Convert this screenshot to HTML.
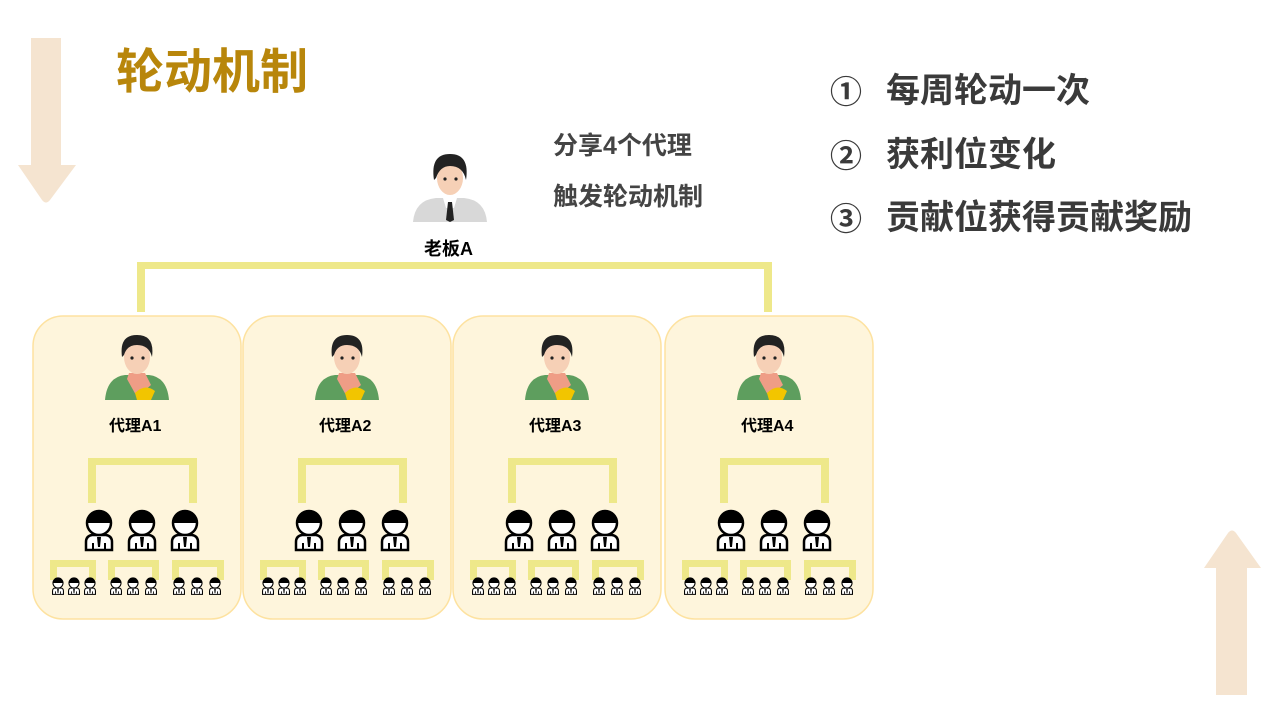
<!DOCTYPE html>
<html><head><meta charset="utf-8"><style>
body{margin:0;width:1280px;height:720px;background:#fff;overflow:hidden;position:relative;font-family:"Liberation Sans","Noto Sans CJK SC",sans-serif}
.t{position:absolute;font-weight:bold;white-space:nowrap}
.n{position:absolute;font-weight:bold;font-size:32px;color:#3a3a3a;left:830px}
</style></head><body>
<svg width="1280" height="720" style="position:absolute;left:0;top:0">
<defs>
<g id="bp">
<path d="M-13,27 L-13,19 Q-13,13 -7,12 L7,12 Q13,13 13,19 L13,27 Z" fill="#fff" stroke="#000" stroke-width="2.5"/>
<path d="M-2,14 L2,14 L1,24 L-1,24Z" fill="#000"/>
<path d="M-6,20 v6 M6,20 v6" stroke="#000" stroke-width="2"/>
<circle cx="0" cy="0" r="12" fill="#fff" stroke="#000" stroke-width="2.5"/>
<path d="M-12,0 A12,12 0 0 1 12,0 Z" fill="#000"/>
</g>
<g id="sp"><use href="#bp" transform="scale(0.42)"/></g>
<g id="av">
<path d="M-32,35 Q-30,12 -12,10 L12,10 Q30,12 32,35Z" fill="#5e9e5e"/>
<path d="M-8,8 L8,8 L14,20 L0,32 L-10,14Z" fill="#ef9d86"/>
<path d="M-2,28 Q8,18 18,26 L14,35 L0,35Z" fill="#f2c500"/>
<ellipse cx="0" cy="-8" rx="13" ry="17" fill="#f6d0b6"/>
<path d="M-15,-8 Q-18,-30 0,-30 Q18,-30 15,-8 Q12,-20 0,-20 Q-10,-20 -13,-10Z" fill="#222"/>
<circle cx="-5" cy="-7" r="1.6" fill="#222"/><circle cx="6" cy="-7" r="1.6" fill="#222"/>
</g>
<g id="panel">
<rect x="33" y="316" width="208" height="303" rx="30" fill="#fef5dc" stroke="#fde2a0" stroke-width="1.5"/>
<use href="#av" transform="translate(137,365)"/>
<path d="M88,458 H197 V503 H189 V465 H96 V503 H88Z" fill="#eee88a"/>
<path d="M50,560 H96 V580 H89 V567 H57 V580 H50Z" fill="#eee88a"/>
<path d="M108,560 H159 V580 H152 V567 H115 V580 H108Z" fill="#eee88a"/>
<path d="M172,560 H224 V580 H217 V567 H179 V580 H172Z" fill="#eee88a"/>
<use href="#bp" transform="translate(99,523)"/>
<use href="#bp" transform="translate(142,523)"/>
<use href="#bp" transform="translate(185,523)"/>
<use href="#sp" transform="translate(58,583)"/><use href="#sp" transform="translate(74,583)"/><use href="#sp" transform="translate(90,583)"/>
<use href="#sp" transform="translate(116,583)"/><use href="#sp" transform="translate(133,583)"/><use href="#sp" transform="translate(151,583)"/>
<use href="#sp" transform="translate(179,583)"/><use href="#sp" transform="translate(197,583)"/><use href="#sp" transform="translate(215,583)"/>
</g>
</defs>
<path d="M31,38 H61 V165 H76 L50,200 Q46,205 42,200 L18,165 H31Z" fill="#f5e4d0"/>
<path d="M1216,695 H1247 V568 H1261 L1236,533 Q1232,528 1228,533 L1204,568 H1216Z" fill="#f5e4d0"/>
<path d="M137,262 H772 V312 H764 V269 H145 V312 H137Z" fill="#eee88a"/>
<use href="#panel"/>
<use href="#panel" transform="translate(210,0)"/>
<use href="#panel" transform="translate(420,0)"/>
<use href="#panel" transform="translate(632,0)"/>
<g transform="translate(450,186)">
<path d="M-37,36 Q-35,14 -14,12 L14,12 Q35,14 37,36Z" fill="#d8d8d8"/>
<path d="M-7,12 L7,12 L4,22 L-4,22Z" fill="#fff"/>
<path d="M-2,16 L2,16 L4,34 L0,36 L-4,34Z" fill="#222"/>
<ellipse cx="0" cy="-8" rx="13" ry="17" fill="#f6d0b6"/>
<path d="M-16,-6 Q-20,-32 0,-32 Q20,-32 16,-6 Q13,-20 0,-20 Q-10,-20 -14,-8Z" fill="#222"/>
<circle cx="-5" cy="-7" r="1.6" fill="#222"/><circle cx="6" cy="-7" r="1.6" fill="#222"/>
</g>
</svg>
<div class="t" style="left:116px;top:32px;font-size:48px;color:#b8860b">轮动机制</div>
<div class="t" style="left:424px;top:235px;font-size:18px;color:#000">老板A</div>
<div class="t" style="left:553px;top:126px;font-size:25px;color:#444">分享4个代理</div>
<div class="t" style="left:553px;top:177px;font-size:25px;color:#444">触发轮动机制</div>
<div class="n" style="top:67px">①</div>
<div class="n" style="top:131px">②</div>
<div class="n" style="top:194px">③</div>
<div class="t" style="left:886px;top:63px;font-size:34px;color:#3a3a3a">每周轮动一次</div>
<div class="t" style="left:886px;top:127px;font-size:34px;color:#3a3a3a">获利位变化</div>
<div class="t" style="left:886px;top:190px;font-size:34px;color:#3a3a3a">贡献位获得贡献奖励</div>
<div class="t" style="left:109px;top:412px;font-size:16px;color:#000">代理A1</div>
<div class="t" style="left:319px;top:412px;font-size:16px;color:#000">代理A2</div>
<div class="t" style="left:529px;top:412px;font-size:16px;color:#000">代理A3</div>
<div class="t" style="left:741px;top:412px;font-size:16px;color:#000">代理A4</div>
</body></html>
